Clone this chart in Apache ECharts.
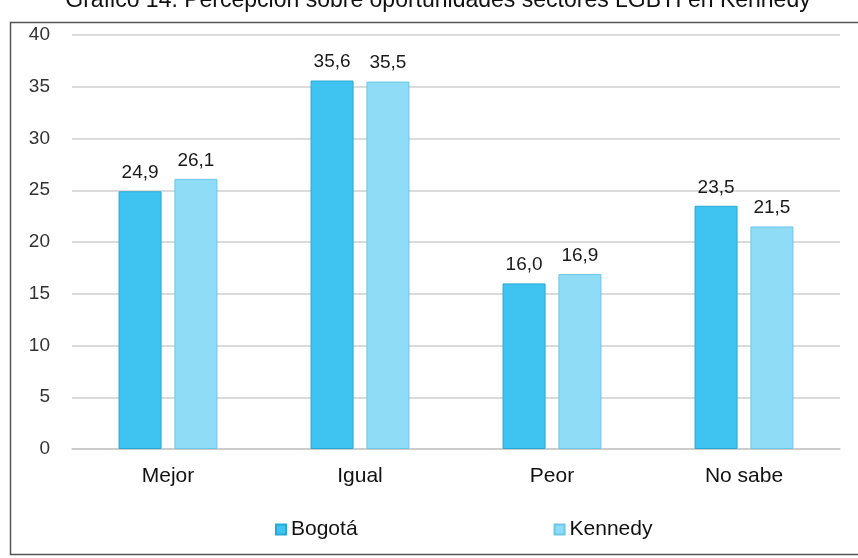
<!DOCTYPE html>
<html>
<head>
<meta charset="utf-8">
<script src="https://cdn.jsdelivr.net/npm/echarts@6/dist/echarts.min.js"></script>
<style>
  html, body { margin: 0; padding: 0; background: #fff; }
  #chart { width: 858px; height: 558px; }
</style>
</head>
<body>
<div id="chart"></div>
<script>
  // datos
  const categorias = ['Mejor', 'Igual', 'Peor', 'No sabe']
  const bogota = [24.9, 35.6, 16.0, 23.5]
  const kennedy = [26.1, 35.5, 16.9, 21.5]
  const ejeY = { min: 0, max: 40, interval: 5 }

  const chart = echarts.init(document.getElementById('chart'))
  const fuente = '"Liberation Sans", Arial, sans-serif'
  const etiqueta = {
    show: true,
    position: 'top',
    distance: 9,
    color: '#1a1a1a',
    fontSize: 19,
    fontFamily: fuente,
    formatter: p => p.value.toFixed(1).replace('.', ',')
  }

  chart.setOption({
    animation: false,
    textStyle: { fontFamily: fuente },
    graphic: [
      {
        type: 'rect',
        shape: { x: 10.5, y: 22.5, width: 860, height: 532 },
        style: { fill: 'none', stroke: '#555', lineWidth: 1.5 }
      },
      {
        type: 'text',
        x: 438, y: -11,
        style: {
          text: 'Gráfico 14. Percepción sobre oportunidades sectores LGBTI en Kennedy',
          fill: '#111', fontSize: 23, fontFamily: fuente, align: 'center'
        }
      }
    ],
    grid: { left: 72, right: 18, top: 35, bottom: 109, containLabel: false },
    legend: {
      data: ['Bogotá', 'Kennedy'],
      top: 514,
      left: 270,
      itemGap: 196,
      itemWidth: 10,
      itemHeight: 10,
      icon: 'rect',
      textStyle: { fontSize: 21, color: '#111', fontFamily: fuente }
    },
    xAxis: {
      type: 'category',
      data: categorias,
      axisTick: { show: false },
      axisLine: { lineStyle: { color: '#c8c8c8', width: 1.5 } },
      axisLabel: { fontSize: 21, color: '#111', margin: 17, fontFamily: fuente }
    },
    yAxis: {
      type: 'value',
      min: ejeY.min,
      max: ejeY.max,
      interval: ejeY.interval,
      axisLine: { show: false },
      axisTick: { show: false },
      axisLabel: { fontSize: 19, color: '#333', margin: 22, fontFamily: fuente },
      splitLine: { lineStyle: { color: '#cfcfcf', width: 1.5 } }
    },
    series: [
      {
        name: 'Bogotá',
        type: 'bar',
        data: bogota,
        barWidth: 43,
        barGap: '30%',
        itemStyle: { color: '#3fc4f1', borderColor: '#27a9d6', borderWidth: 1 },
        label: etiqueta
      },
      {
        name: 'Kennedy',
        type: 'bar',
        data: kennedy,
        barWidth: 43,
        itemStyle: { color: '#8fdcf7', borderColor: '#6cc6e6', borderWidth: 1 },
        label: etiqueta
      }
    ]
  })
</script>
</body>
</html>
